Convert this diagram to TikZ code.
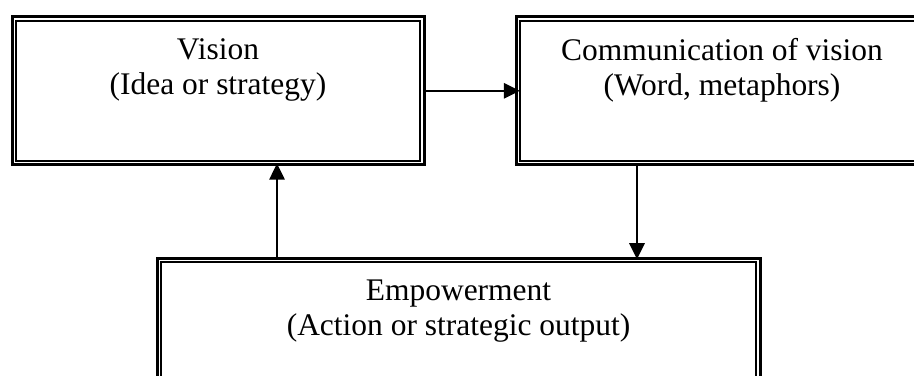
\documentclass[tikz,border=0pt]{standalone}
\usepackage{fontspec}
\setmainfont{Liberation Serif}
\usetikzlibrary{arrows.meta}
\usetikzlibrary{positioning}
\usetikzlibrary{calc}

\tikzset{
    outerbox/.style={draw, line width=2.25pt, anchor=north west, inner sep=0pt},
    innerbox/.style={draw, line width=1.5pt},
    boxtext/.style={anchor=north, align=center, inner sep=0pt, font=\fontsize{23.6pt}{26.3pt}\selectfont},
    flow/.style={line width=1.5pt, -{Triangle[length=12pt, width=11.5pt]}}
}

\begin{document}
\begin{tikzpicture}[x=0.75pt, y=-0.75pt]

    \clip (0,0) rectangle (914,375);

    % the three framed boxes
    \node[outerbox, minimum width=309pt, minimum height=111pt] (vision) at (10.5,15.3) {};
    \node[outerbox, minimum width=309pt, minimum height=111pt] (comm) at (514.5,15.3) {};
    \node[outerbox, minimum width=452.25pt, minimum height=111pt] (empower) at (155.5,256.5) {};

    \draw[innerbox] ($(vision.north west)+(5.8,5.8)$) rectangle ($(vision.south east)+(-5.8,-5.8)$);
    \draw[innerbox] ($(comm.north west)+(5.8,5.8)$) rectangle ($(comm.south east)+(-5.8,-5.8)$);
    \draw[innerbox] ($(empower.north west)+(5.8,5.8)$) rectangle ($(empower.south east)+(-5.8,-5.8)$);

    \node[boxtext] (visiontext) at ($(vision.north)+(0,23)$) {Vision\\(Idea or strategy)};
    \node[boxtext] (commtext) at ($(comm.north)+(0,23)$) {Communication of vision\\(Word, metaphors)};
    \node[boxtext] (empowertext) at ($(empower.north)+(0,23)$) {Empowerment\\(Action or strategic output)};

    % connectors
    \coordinate (commdown) at ($(comm.south west)+(122.5,0)$);
    \coordinate (empowerup) at ($(empower.north west)+(121.5,0)$);

    \draw[flow, shorten >=-4pt] (vision) -- (comm);
    \draw[flow, shorten >=-2pt] (commdown) -- (commdown |- empower.north);
    \draw[flow, shorten >=-2pt] (empowerup) -- (empowerup |- vision.south);

\end{tikzpicture}
\end{document}
